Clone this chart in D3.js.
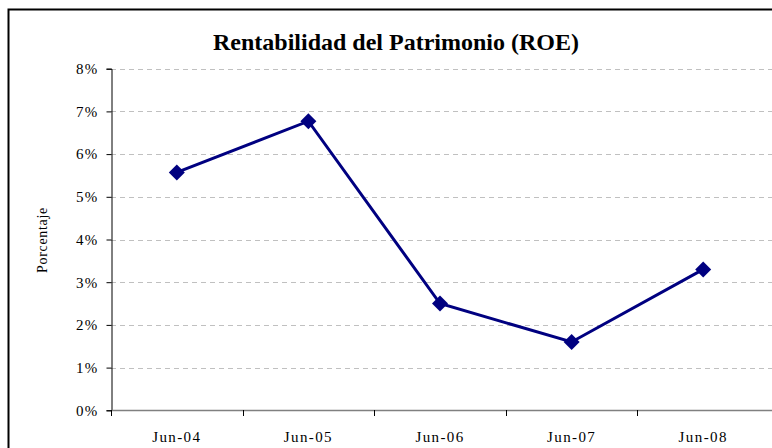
<!DOCTYPE html>
<html>
<head>
<meta charset="utf-8">
<script src="https://cdn.jsdelivr.net/npm/d3@7"></script>
<style>
  body { margin: 0; background: #fff; }
  svg { display: block; font-family: "Liberation Serif", "Times New Roman", serif; }
</style>
</head>
<body>
<svg id="canvas"></svg>
<script>
let categories = ["Jun-04", "Jun-05", "Jun-06", "Jun-07", "Jun-08"];
let roeValues = [5.57, 6.77, 2.50, 1.60, 3.30];
let yTicks = [0, 1, 2, 3, 4, 5, 6, 7, 8];
let titleText = "Rentabilidad del Patrimonio (ROE)";
let yLabelText = "Porcentaje";

let width = 772;
let height = 448;
let plotLeft = 111, plotRight = 769, plotTop = 68.7, plotBottom = 410.3;

let canvas = d3.select("#canvas").attr("width", width).attr("height", height);

// outer chart-area frame (cropped on the right and bottom)
canvas.append("path")
      .attr("d", "M8.5," + height + "V9.5H" + (width + 5))
      .attr("fill", "none")
      .attr("stroke", "#000")
      .attr("stroke-width", 2);

let xScale = d3.scaleBand().domain(categories).range([plotLeft, plotRight]);
let yScale = d3.scaleLinear().domain([0, 8]).range([plotBottom, plotTop]);

// gridlines
canvas.append("g")
      .selectAll("line")
      .data(yTicks.filter(t => t > 0))
      .enter()
      .append("line")
      .attr("x1", plotLeft)
      .attr("x2", width)
      .attr("y1", t => Math.round(yScale(t)) + 0.5)
      .attr("y2", t => Math.round(yScale(t)) + 0.5)
      .attr("stroke", "#c0c0c0")
      .attr("stroke-dasharray", "5,4");

// y axis
let yAxis = d3.axisLeft(yScale).tickValues(yTicks).tickFormat(d => d + "%").tickSize(5).tickPadding(8);
let yG = canvas.append("g")
      .attr("transform", "translate(" + (plotLeft + 0.5) + ",0)")
      .call(yAxis);
yG.select(".domain").attr("stroke", "#000");
yG.selectAll(".tick line").attr("stroke", "#000");
yG.selectAll("text")
  .style("font-size", "15px")
  .style("font-family", "'Liberation Serif', serif")
  .style("letter-spacing", "1.3px")
  .attr("fill", "#000");

// x axis
let xAxis = d3.axisBottom(xScale).tickSize(0).tickPadding(21);
let xG = canvas.append("g")
      .attr("transform", "translate(0," + (Math.round(plotBottom) + 0.5) + ")")
      .call(xAxis);
xG.select(".domain").remove();
xG.selectAll("text")
  .style("font-size", "15px")
  .style("font-family", "'Liberation Serif', serif")
  .style("letter-spacing", "1.4px")
  .attr("fill", "#000");
canvas.append("line")
      .attr("x1", plotLeft).attr("x2", width)
      .attr("y1", Math.round(plotBottom) + 0.5).attr("y2", Math.round(plotBottom) + 0.5)
      .attr("stroke", "#808080").attr("stroke-width", 1.5);

// category separator ticks
canvas.append("g")
      .selectAll("line")
      .data(categories)
      .enter()
      .append("line")
      .attr("x1", d => Math.round(xScale(d)) + 0.5)
      .attr("x2", d => Math.round(xScale(d)) + 0.5)
      .attr("y1", Math.round(plotBottom))
      .attr("y2", Math.round(plotBottom) + 6)
      .attr("stroke", "#000");

// line
let line = d3.line()
      .x((d, i) => xScale(categories[i]) + xScale.bandwidth() / 2)
      .y(d => yScale(d));

canvas.append("path")
      .datum(roeValues)
      .attr("d", line)
      .attr("fill", "none")
      .attr("stroke", "#000080")
      .attr("stroke-width", 3);

// diamond markers
canvas.append("g")
      .selectAll("path")
      .data(roeValues)
      .enter()
      .append("path")
      .attr("d", d3.symbol().type(d3.symbolSquare).size(128))
      .attr("transform", (d, i) => "translate(" + (xScale(categories[i]) + xScale.bandwidth() / 2) + "," + yScale(d) + ") rotate(45)")
      .attr("fill", "#000080");

// title
canvas.append("text")
      .attr("x", 396)
      .attr("y", 50)
      .attr("text-anchor", "middle")
      .style("font-size", "24px")
      .style("font-weight", "bold")
      .text(titleText);

// y label
canvas.append("text")
      .attr("transform", "translate(47,240) rotate(-90)")
      .attr("text-anchor", "middle")
      .style("font-size", "14px")
      .style("letter-spacing", "0.7px")
      .text(yLabelText);
</script>
</body>
</html>
